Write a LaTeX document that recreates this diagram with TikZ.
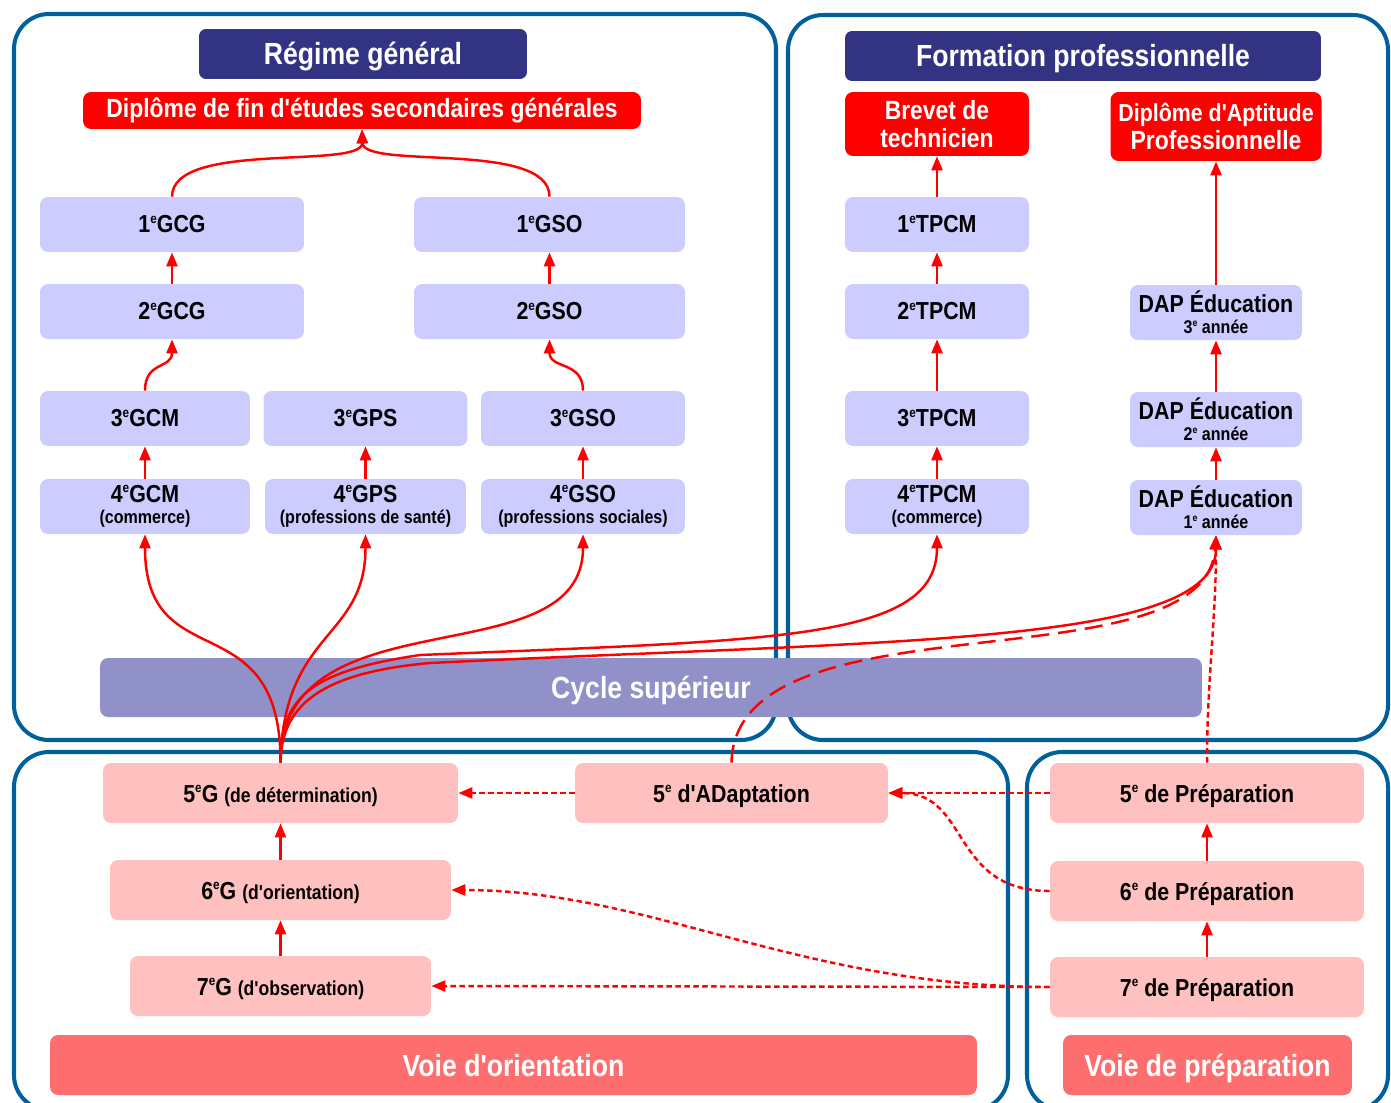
\documentclass[tikz,border=0pt]{standalone}
\usepackage{fontspec}
\newfontfamily\diagfont[FakeStretch=0.87]{Liberation Sans}
\usetikzlibrary{arrows.meta}
\definecolor{frameBlue}{RGB}{0,96,156}
\definecolor{headBlue}{RGB}{51,51,131}
\definecolor{diplRed}{RGB}{255,0,0}
\definecolor{classLav}{RGB}{204,204,255}
\definecolor{cycleLav}{RGB}{145,145,202}
\definecolor{lowPink}{RGB}{255,192,192}
\definecolor{trackRed}{RGB}{255,110,110}
\newcommand\ord[1]{#1\raisebox{0.75ex}{\scalebox{0.55}{e}}}
\newcommand\subline[1]{{\fontsize{10.5}{12}\selectfont #1}}
\newcommand\paren[1]{{\fontsize{11.5}{12}\selectfont #1}}

\begin{document}
\begin{tikzpicture}[
  x=0.02cm, y=-0.02cm,
  every node/.style={inner sep=0pt, align=center},
  panel/.style={draw=frameBlue, line width=2.3pt, rounded corners=0.7cm},
  headbox/.style={fill=headBlue, text=white, rounded corners=0.14cm,
    minimum height=1cm, text height=16.2pt, text depth=3.7pt,
    font=\diagfont\bfseries\fontsize{17.4}{20}\selectfont},
  diplbox/.style={fill=diplRed, text=white, rounded corners=0.16cm,
    font=\diagfont\bfseries\fontsize{15}{16}\selectfont},
  classbox/.style={fill=classLav, rounded corners=0.16cm, minimum height=1.1cm,
    font=\diagfont\bfseries\fontsize{14}{12}\selectfont},
  lowbox/.style={fill=lowPink, rounded corners=0.16cm, minimum height=1.2cm,
    text height=13.3pt, text depth=2.8pt,
    font=\diagfont\bfseries\fontsize{14}{12}\selectfont},
  trackbox/.style={text=white, rounded corners=0.16cm, minimum height=1.2cm,
    text height=16.2pt, text depth=3.7pt,
    font=\diagfont\bfseries\fontsize{17.4}{20}\selectfont},
  link/.style={draw=diplRed, line width=1.4pt,
    -{Triangle[length=0.28cm,width=0.22cm]}},
  dotlink/.style={link, dash pattern=on 0.11cm off 0.07cm},
  dashlink/.style={link, dash pattern=on 0.36cm off 0.18cm},
]
\useasboundingbox (0,0) rectangle (1391,1102);

% frames
\draw[panel] (14,14) rectangle (776,740);
\draw[panel] (788,15) rectangle (1388,740);
\draw[panel] (14,752) rectangle (1008,1110);
\draw[panel] (1027,752) rectangle (1388,1110);

% regime general
\node[headbox, minimum width=6.56cm] (regime) at (363,54) {Régime général};
\node[diplbox, minimum width=11.16cm, minimum height=0.74cm] (dfes) at (362,110.5)
  {Diplôme de fin d'études secondaires générales};
\node[classbox, minimum width=5.28cm] (gcg1) at (172,224.5) {\ord{1}GCG};
\node[classbox, minimum width=5.42cm] (gso1) at (549.5,224.5) {\ord{1}GSO};
\node[classbox, minimum width=5.28cm] (gcg2) at (172,311.5) {\ord{2}GCG};
\node[classbox, minimum width=5.42cm] (gso2) at (549.5,311.5) {\ord{2}GSO};
\node[classbox, minimum width=4.2cm] (gcm3) at (145,418.5) {\ord{3}GCM};
\node[classbox, minimum width=4.08cm] (gps3) at (365.5,418.5) {\ord{3}GPS};
\node[classbox, minimum width=4.08cm] (gso3) at (583,418.5) {\ord{3}GSO};
\node[classbox, minimum width=4.2cm] (gcm4) at (145,506.5)
  {\ord{4}GCM\\\subline{(commerce)}};
\node[classbox, minimum width=4.02cm] (gps4) at (365.5,506.5)
  {\ord{4}GPS\\\subline{(professions de santé)}};
\node[classbox, minimum width=4.08cm] (gso4) at (583,506.5)
  {\ord{4}GSO\\\subline{(professions sociales)}};

% formation professionnelle
\node[headbox, minimum width=9.52cm] (fp) at (1083,56) {Formation professionnelle};
\node[diplbox, minimum width=3.68cm, minimum height=1.28cm] (bt) at (937,124)
  {Brevet de\\technicien};
\node[diplbox, minimum width=4.22cm, minimum height=1.38cm] (dap) at (1216,126.5)
  {\fontsize{14}{15}\selectfont Diplôme d'Aptitude\\Professionnelle};
\node[classbox, minimum width=3.68cm] (tpcm1) at (937,224.5) {\ord{1}TPCM};
\node[classbox, minimum width=3.68cm] (tpcm2) at (937,311.5) {\ord{2}TPCM};
\node[classbox, minimum width=3.68cm] (tpcm3) at (937,418.5) {\ord{3}TPCM};
\node[classbox, minimum width=3.68cm] (tpcm4) at (937,506.5)
  {\ord{4}TPCM\\\subline{(commerce)}};
\node[classbox, minimum width=3.44cm] (dap3) at (1216,312.5)
  {DAP Éducation\\\subline{\ord{3} année}};
\node[classbox, minimum width=3.44cm] (dap2) at (1216,419.5)
  {DAP Éducation\\\subline{\ord{2} année}};
\node[classbox, minimum width=3.44cm] (dap1) at (1216,507.5)
  {DAP Éducation\\\subline{\ord{1} année}};

\node[trackbox, fill=cycleLav, minimum width=22.04cm, minimum height=1.18cm] (cycle)
  at (651,687.5) {Cycle supérieur};

% voie d'orientation / voie de preparation
\node[lowbox, minimum width=7.1cm] (o5) at (280.5,793) {\ord{5}G \paren{(de détermination)}};
\node[lowbox, minimum width=6.26cm] (ad5) at (731.5,793) {\ord{5} d'ADaptation};
\node[lowbox, minimum width=6.82cm] (o6) at (280.5,890) {\ord{6}G \paren{(d'orientation)}};
\node[lowbox, minimum width=6.02cm] (o7) at (280.5,986) {\ord{7}G \paren{(d'observation)}};
\node[trackbox, fill=trackRed, minimum width=18.54cm] (vo) at (513.5,1065) {Voie d'orientation};
\node[lowbox, minimum width=6.28cm] (p5) at (1207,793) {\ord{5} de Préparation};
\node[lowbox, minimum width=6.28cm] (p6) at (1207,891) {\ord{6} de Préparation};
\node[lowbox, minimum width=6.28cm] (p7) at (1207,987) {\ord{7} de Préparation};
\node[trackbox, fill=trackRed, minimum width=5.78cm] (vp) at (1207.5,1065) {Voie de préparation};

% links, regime general
\draw[link] (gcg1.north) .. controls (172,140) and (363,170) .. (dfes.south);
\draw[link] (gso1.north) .. controls (549.5,140) and (363,170) .. (dfes.south);
\draw[link] (gcg2.north) -- (gcg1.south);
\draw[link] (gso2.north) -- (gso1.south);
\draw[link] (gcm3.north) .. controls +(0,-30) and +(0,30) .. (gcg2.south);
\draw[link] (gso3.north) .. controls +(0,-30) and +(0,30) .. (gso2.south);
\draw[link] (gcm4.north) -- (gcm3.south);
\draw[link] (gps4.north) -- (gps3.south);
\draw[link] (gso4.north) -- (gso3.south);

% links, formation professionnelle
\draw[link] (tpcm1.north) -- (bt.south);
\draw[link] (tpcm2.north) -- (tpcm1.south);
\draw[link] (tpcm3.north) -- (tpcm2.south);
\draw[link] (tpcm4.north) -- (tpcm3.south);
\draw[link] (dap3.north) -- (dap.south);
\draw[link] (dap2.north) -- (dap3.south);
\draw[link] (dap1.north) -- (dap2.south);

% from 5eG upwards
\draw[link] (o5.north) .. controls (281,600) and (145,680) .. (gcm4.south);
\draw[link] (o5.north) .. controls (283,630) and (365.5,640) .. (gps4.south);
\draw[link] (o5.north) .. controls (281,590) and (583,680) .. (gso4.south);
\draw[link] (o5.north) .. controls (281,700) and (305,672) .. (420,655)
  .. controls (780,640) and (937,640) .. (tpcm4.south);
\draw[link] (o5.north) .. controls (281,700) and (330,672) .. (430,663)
  .. controls (900,640) and (1216,645) .. (dap1.south);
\draw[dashlink] (ad5.north) .. controls (735,590) and (1205,690) .. (dap1.south);
\draw[dotlink] (p5.north) .. controls (1207,680) and (1216,620) .. (dap1.south);

% lower links
\draw[link] (o6.north) -- (o5.south);
\draw[link] (o7.north) -- (o6.south);
\draw[link] (p6.north) -- (p5.south);
\draw[link] (p7.north) -- (p6.south);
\draw[dotlink] (ad5.west) -- (o5.east);
\draw[dotlink] (p5.west) -- (ad5.east);
\draw[dotlink] (p6.west) .. controls (950,891) and (970,793) .. (ad5.east);
\draw[dotlink] (p7.west) -- (o7.east);
\draw[dotlink] (p7.west) .. controls (800,987) and (650,890) .. (o6.east);
\end{tikzpicture}
\end{document}
